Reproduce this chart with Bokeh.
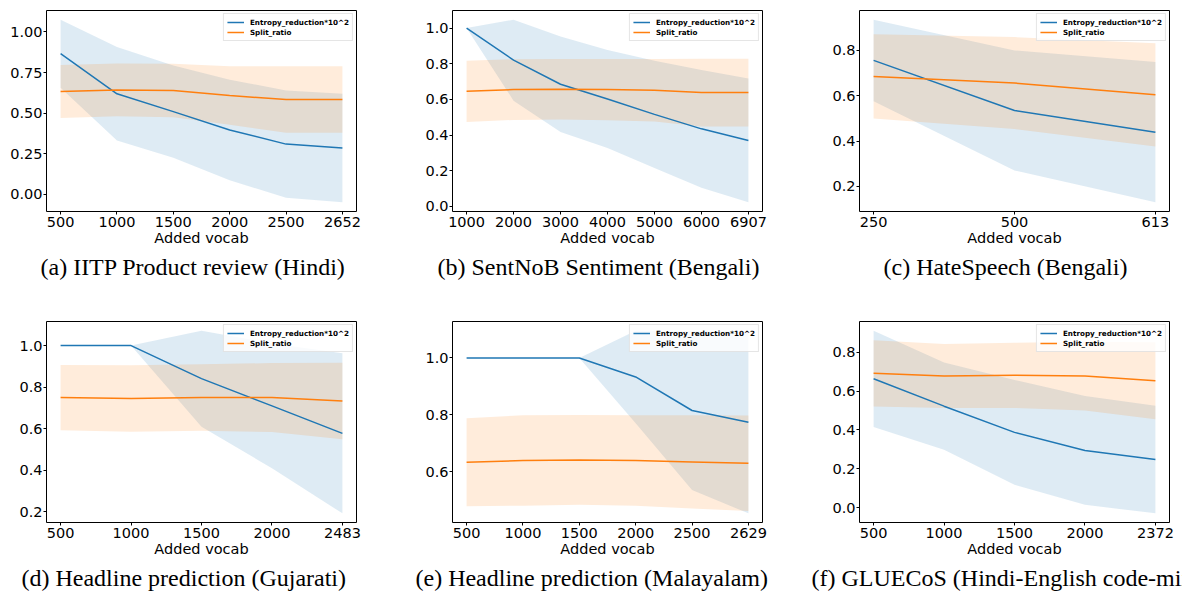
from bokeh.plotting import figure
from bokeh.layouts import column, row
from bokeh.models import Range1d, FixedTicker, NumeralTickFormatter, Title
from bokeh.embed import file_html
from bokeh.resources import INLINE

# ---------------- data ----------------
captions = [
    "(a) IITP Product review (Hindi)",
    "(b) SentNoB Sentiment (Bengali)",
    "(c) HateSpeech (Bengali)",
    "(d) Headline prediction (Gujarati)",
    "(e) Headline prediction (Malayalam)",
    "(f) GLUECoS (Hindi-English code-mixed)",
]

vocab_a = ["500", "1000", "1500", "2000", "2500", "2652"]
ent_a = [0.866, 0.619, 0.509, 0.396, 0.309, 0.285]
ent_sd_a = [0.210, 0.288, 0.284, 0.310, 0.330, 0.335]
split_a = [0.633, 0.643, 0.639, 0.608, 0.584, 0.584]
split_sd_a = [0.163, 0.163, 0.165, 0.180, 0.205, 0.205]
yticks_a = [0.0, 0.25, 0.5, 0.75, 1.0]

vocab_b = ["1000", "2000", "3000", "4000", "5000", "6000", "6907"]
ent_b = [1.000, 0.820, 0.685, 0.602, 0.516, 0.435, 0.370]
ent_sd_b = [0.000, 0.227, 0.268, 0.275, 0.300, 0.330, 0.347]
split_b = [0.645, 0.655, 0.657, 0.655, 0.651, 0.638, 0.638]
split_sd_b = [0.172, 0.170, 0.170, 0.172, 0.175, 0.190, 0.190]
yticks_b = [0.0, 0.2, 0.4, 0.6, 0.8, 1.0]

vocab_c = ["250", "500", "613"]
ent_c = [0.756, 0.535, 0.439]
ent_sd_c = [0.180, 0.265, 0.310]
split_c = [0.685, 0.656, 0.604]
split_sd_c = [0.186, 0.203, 0.228]
yticks_c = [0.2, 0.4, 0.6, 0.8]

vocab_d = ["500", "1000", "1500", "2000", "2483"]
ent_d = [1.000, 1.000, 0.841, 0.710, 0.578]
ent_sd_d = [0.000, 0.000, 0.231, 0.300, 0.385]
split_d = [0.750, 0.746, 0.750, 0.750, 0.733]
split_sd_d = [0.157, 0.160, 0.160, 0.166, 0.184]
yticks_d = [0.2, 0.4, 0.6, 0.8, 1.0]

vocab_e = ["500", "1000", "1500", "2000", "2500", "2629"]
ent_e = [1.000, 1.000, 1.000, 0.933, 0.815, 0.774]
ent_sd_e = [0.000, 0.000, 0.000, 0.163, 0.280, 0.321]
split_e = [0.633, 0.639, 0.641, 0.639, 0.634, 0.629]
split_sd_e = [0.155, 0.159, 0.158, 0.159, 0.164, 0.168]
yticks_e = [0.6, 0.8, 1.0]

vocab_f = ["500", "1000", "1500", "2000", "2372"]
ent_f = [0.663, 0.522, 0.387, 0.294, 0.247]
ent_sd_f = [0.248, 0.225, 0.270, 0.280, 0.277]
split_f = [0.691, 0.677, 0.681, 0.677, 0.653]
split_sd_f = [0.171, 0.165, 0.168, 0.177, 0.198]
yticks_f = [0.0, 0.2, 0.4, 0.6, 0.8]

BLUE = "#1f77b4"
ORANGE = "#ff7f0e"
FRAME_W, FRAME_H = 310, 201


def make(vocab, ent, ent_sd, spl, spl_sd, yticks, yfmt, caption, cap_offset,
         width, height, b_left, b_top):
    n = len(vocab)
    xs = list(range(n))
    ent_lo = [m - s for m, s in zip(ent, ent_sd)]
    ent_hi = [m + s for m, s in zip(ent, ent_sd)]
    spl_lo = [m - s for m, s in zip(spl, spl_sd)]
    spl_hi = [m + s for m, s in zip(spl, spl_sd)]
    lo = min(ent_lo + spl_lo)
    hi = max(ent_hi + spl_hi)
    pad = 0.05 * (hi - lo)

    p = figure(width=width, height=height, output_backend="svg",
               toolbar_location=None, tools="",
               x_range=Range1d(-0.05 * (n - 1), 1.05 * (n - 1)),
               y_range=Range1d(lo - pad, hi + pad),
               min_border_left=b_left, min_border_right=width - b_left - FRAME_W,
               min_border_top=b_top, min_border_bottom=height - b_top - FRAME_H)
    p.grid.visible = False
    p.outline_line_color = "black"
    p.outline_line_width = 1
    p.outline_line_alpha = 1
    p.background_fill_color = "white"
    p.border_fill_color = "white"

    p.varea(x=xs, y1=ent_lo, y2=ent_hi, fill_color=BLUE, fill_alpha=0.15)
    p.varea(x=xs, y1=spl_lo, y2=spl_hi, fill_color=ORANGE, fill_alpha=0.15)
    p.line(xs, ent, line_color=BLUE, line_width=1.5,
           legend_label="Entropy_reduction*10^2")
    p.line(xs, spl, line_color=ORANGE, line_width=1.5, legend_label="Split_ratio")

    for ax in (p.xaxis[0], p.yaxis[0]):
        ax.axis_line_color = None
        ax.major_tick_out = 3
        ax.major_tick_in = 0
        ax.minor_tick_out = 0
        ax.minor_tick_in = 0
        ax.major_tick_line_color = "black"
        ax.major_label_text_font = "DejaVu Sans"
        ax.major_label_text_font_size = "14.5px"
        ax.major_label_text_color = "black"
        ax.major_label_standoff = 1

    p.xaxis.ticker = FixedTicker(ticks=xs)
    p.xaxis.major_label_overrides = {i: v for i, v in enumerate(vocab)}
    p.xaxis.major_label_standoff = 2
    p.xaxis.axis_label = "Added vocab"
    p.xaxis.axis_label_text_font = "DejaVu Sans"
    p.xaxis.axis_label_text_font_size = "14.5px"
    p.xaxis.axis_label_text_font_style = "normal"
    p.xaxis.axis_label_text_color = "black"
    p.xaxis.axis_label_standoff = 0

    p.yaxis.ticker = FixedTicker(ticks=yticks)
    p.yaxis.formatter = NumeralTickFormatter(format=yfmt)

    leg = p.legend[0]
    leg.location = "top_right"
    leg.margin = 3
    leg.padding = 3
    leg.spacing = 0
    leg.glyph_width = 17
    leg.glyph_height = 10
    leg.label_height = 10
    leg.label_standoff = 6
    leg.label_text_font = "DejaVu Sans"
    leg.label_text_font_size = "7.2px"
    leg.label_text_font_style = "bold"
    leg.label_text_color = "black"
    leg.border_line_color = "#cccccc"
    leg.background_fill_alpha = 0.8

    p.add_layout(Title(text=caption, align="left", offset=cap_offset,
                       text_font="Liberation Serif",
                       text_font_size="24px", text_font_style="normal",
                       text_color="black", standoff=7), "below")
    return p


specs = [
    (vocab_a, ent_a, ent_sd_a, split_a, split_sd_a, yticks_a, "0.00"),
    (vocab_b, ent_b, ent_sd_b, split_b, split_sd_b, yticks_b, "0.0"),
    (vocab_c, ent_c, ent_sd_c, split_c, split_sd_c, yticks_c, "0.0"),
    (vocab_d, ent_d, ent_sd_d, split_d, split_sd_d, yticks_d, "0.0"),
    (vocab_e, ent_e, ent_sd_e, split_e, split_sd_e, yticks_e, "0.0"),
    (vocab_f, ent_f, ent_sd_f, split_f, split_sd_f, yticks_f, "0.0"),
]
# layout: (width, height, left border, top border, caption offset) per panel
geom = [
    (414, 319, 46, 10, -6), (407, 319, 38, 10, -15), (361, 319, 38, 10, 24),
    (414, 276, 46, 2, -25), (394, 276, 38, 2, -37), (374, 276, 51, 2, -48),
]
figs = []
for k in range(6):
    w, h, bl, bt, off = geom[k]
    figs.append(make(*specs[k], captions[k], off, w, h, bl, bt))

layout = column(row(*figs[:3]), row(*figs[3:]))
open("out.html", "w").write(file_html(layout, INLINE))
